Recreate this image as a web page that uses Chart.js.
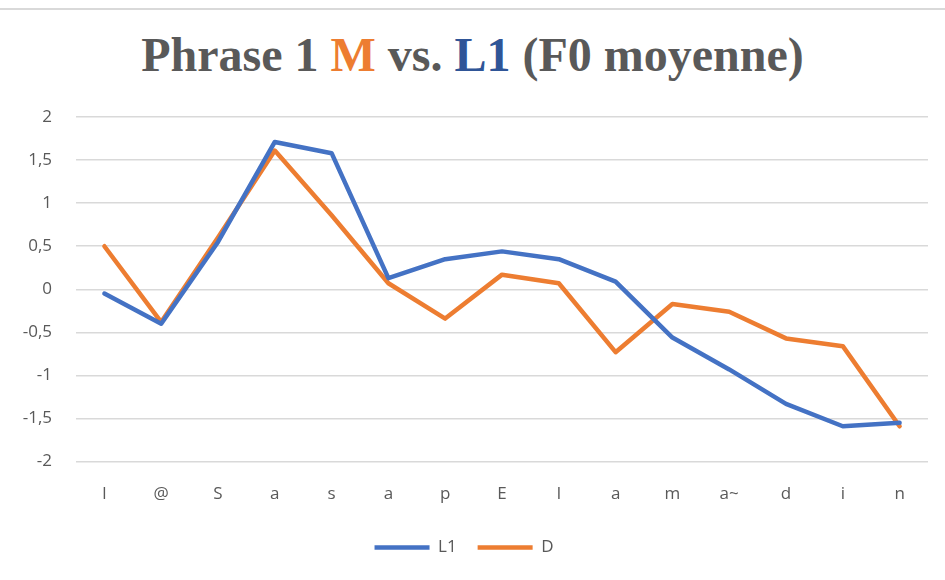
<!DOCTYPE html>
<html>
<head>
<meta charset="utf-8">
<script src="https://cdn.jsdelivr.net/npm/chart.js@4"></script>
<style>
  body { margin: 0; background: #fff; }
  #wrap { position: relative; width: 945px; height: 580px; overflow: hidden; }
  #frame { position: absolute; left: 0; top: 8px; width: 945px; height: 2px; background: #d9d9d9; }
  #title {
    position: absolute; left: 0; top: 27px; width: 945px; text-align: center;
    font-family: "Liberation Serif", "Times New Roman", serif; font-weight: bold;
    font-size: 48px; color: #595959; white-space: nowrap;
  }
  #title .m { color: #ED7D31; }
  #title .l { color: #2F5597; }
  canvas { position: absolute; left: 0; top: 0; }
</style>
</head>
<body>
<div id="wrap">
  <div id="frame"></div>
  <div id="title">Phrase 1 <span class="m">M</span> vs. <span class="l">L1</span> (F0 moyenne)</div>
  <canvas id="chart" width="945" height="580"></canvas>
</div>
<script>
// phonèmes
const labels = ['l', '@', 'S', 'a', 's', 'a', 'p', 'E', 'l', 'a', 'm', 'a~', 'd', 'i', 'n'];

// F0 moyenne (z-score)
const valuesL1 = [-0.05, -0.40, 0.55, 1.71, 1.58, 0.13, 0.35, 0.44, 0.35, 0.09, -0.56, -0.93, -1.33, -1.59, -1.55];
const valuesD  = [0.50, -0.38, 0.60, 1.61, 0.86, 0.07, -0.34, 0.17, 0.07, -0.73, -0.17, -0.26, -0.57, -0.66, -1.59];

const gridColor = '#d9d9d9';
const textColor = '#595959';

const ctx = document.getElementById('chart').getContext('2d');
const chart = new Chart(ctx, {
    type: 'line',
    data: {
        labels: labels,
        datasets: [{
            label: 'L1',
            data: valuesL1,
            borderColor: '#4472C4',
            backgroundColor: '#4472C4',
            borderWidth: 4.5,
            pointRadius: 0,
            tension: 0,
            borderCapStyle: 'round',
            borderJoinStyle: 'round'
        }, {
            label: 'D',
            data: valuesD,
            borderColor: '#ED7D31',
            backgroundColor: '#ED7D31',
            borderWidth: 4.5,
            pointRadius: 0,
            tension: 0,
            borderCapStyle: 'round',
            borderJoinStyle: 'round'
        }]
    },
    options: {
        responsive: false,
        animation: false,
        layout: {
            padding: { top: 117, right: 17, left: 0, bottom: 14 }
        },
        scales: {
            x: {
                offset: true,
                grid: { display: false },
                border: { display: false },
                ticks: {
                    color: textColor,
                    padding: 14,
                    font: { family: 'Open Sans', size: 17 }
                }
            },
            y: {
                min: -2,
                max: 2,
                afterFit: (scale) => { scale.width = 76; },
                grid: { color: gridColor, lineWidth: 1.5, drawTicks: false },
                border: { display: false },
                ticks: {
                    stepSize: 0.5,
                    color: textColor,
                    padding: 24,
                    font: { family: 'Open Sans', size: 17 },
                    callback: (v) => String(v).replace('.', ',')
                }
            }
        },
        plugins: {
            legend: {
                position: 'bottom',
                labels: {
                    usePointStyle: true,
                    pointStyle: 'line',
                    pointStyleWidth: 55,
                    boxWidth: 55,
                    color: textColor,
                    padding: 21,
                    font: { family: 'Open Sans', size: 17 }
                }
            },
            tooltip: { enabled: false }
        }
    }
});
</script>
</body>
</html>
